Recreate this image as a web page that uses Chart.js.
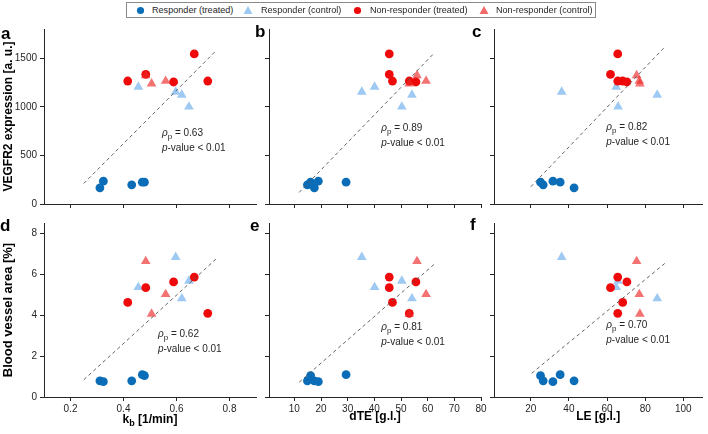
<!DOCTYPE html>
<html>
<head>
<meta charset="utf-8">
<script src="https://cdn.jsdelivr.net/npm/chart.js@4.4.0/dist/chart.umd.min.js"></script>
<style>
    html, body { margin: 0; padding: 0; background: #fff; }
    #fig { position: relative; width: 708px; height: 434px; overflow: hidden; }
    .panel { position: absolute; }
    #legend {
        position: absolute; left: 126px; top: 2px; width: 468px; height: 14px;
        border: 1px solid #8a8a8a; background: #fff;
        font-family: "Liberation Sans", Arial, Helvetica, sans-serif; font-size: 9.1px; color: #262626;
    }
    #legend span, #legend svg { position: absolute; }
    #legend span { top: 1px; line-height: 12px; white-space: nowrap; }
</style>
</head>
<body>
<div id="fig">
    <div class="panel" id="pA"><canvas id="cA"></canvas></div>
    <div class="panel" id="pB"><canvas id="cB"></canvas></div>
    <div class="panel" id="pC"><canvas id="cC"></canvas></div>
    <div class="panel" id="pD"><canvas id="cD"></canvas></div>
    <div class="panel" id="pE"><canvas id="cE"></canvas></div>
    <div class="panel" id="pF"><canvas id="cF"></canvas></div>
    <div id="legend">
        <svg style="left:9px;top:3px" width="9" height="9"><circle cx="4.5" cy="4.5" r="3.6" fill="#0b6db7"/></svg>
        <span style="left:25px">Responder (treated)</span>
        <svg style="left:116px;top:2px" width="10" height="10"><polygon points="5,1 9.5,9 0.5,9" fill="#9dc9f2"/></svg>
        <span style="left:134px">Responder (control)</span>
        <svg style="left:226px;top:3px" width="9" height="9"><circle cx="4.5" cy="4.5" r="3.6" fill="#ee0a0a"/></svg>
        <span style="left:243px">Non-responder (treated)</span>
        <svg style="left:352px;top:2px" width="10" height="10"><polygon points="5,1 9.5,9 0.5,9" fill="#f26a6a"/></svg>
        <span style="left:369px">Non-responder (control)</span>
    </div>
</div>

<script>
// ---- data (one entry per animal) ----
// Responder (treated)
const kbRT    = [0.311, 0.324, 0.431, 0.471, 0.479];
const dteRT   = [17.5, 19.0, 14.9, 29.4, 16.1];
const leRT    = [42.7, 31.6, 26.5, 35.4, 25.1];
const vegfrRT = [166, 235, 197, 224, 224];
const bvaRT   = [0.79, 0.75, 0.79, 1.09, 1.04];
// Responder (control)
const kbRC    = [0.456, 0.597, 0.620, 0.647];
const dteRC   = [40.1, 35.3, 54.1, 50.3];
const leRC    = [64.8, 36.2, 86.3, 65.8];
const vegfrRC = [1204, 1153, 1122, 1000];
const bvaRC   = [5.36, 6.83, 4.81, 5.67];
// Non-responder (treated)
const kbNT    = [0.416, 0.484, 0.589, 0.667, 0.718];
const dteNT   = [46.8, 45.6, 55.6, 45.6, 53.1];
const leNT    = [68.2, 61.8, 70.4, 65.6, 65.6];
const vegfrNT = [1265, 1333, 1255, 1544, 1265];
const bvaNT   = [4.62, 5.34, 5.62, 5.86, 4.09];
// Non-responder (control)
const kbNC    = [0.484, 0.506, 0.559];
const dteNC   = [56.0, 53.1, 59.4];
const leNC    = [75.5, 77.2, 76.9];
const vegfrNC = [1323, 1238, 1265];
const bvaNC   = [6.63, 4.06, 5.02];

// regression lines (end points)
const fitKbVegfrX  = [0.25, 0.75],  fitKbVegfrY  = [211, 1579];
const fitDteVegfrX = [11.8, 62.3],  fitDteVegfrY = [119, 1548];
const fitLeVegfrX  = [20.0, 90.6],  fitLeVegfrY  = [177, 1622];
const fitKbBvaX    = [0.25, 0.75],  fitKbBvaY    = [0.84, 6.75];
const fitDteBvaX   = [11.8, 62.3],  fitDteBvaY   = [0.72, 6.47];
const fitLeBvaX    = [20.5, 90.6],  fitLeBvaY    = [1.16, 6.55];

const rhoP = ['0.63', '0.89', '0.82', '0.62', '0.81', '0.70'];
const pText = '-value < 0.01';

// tick labels
const kbTicks    = [0.2, 0.4, 0.6, 0.8];
const dteTicks   = [10, 20, 30, 40, 50, 60, 70, 80];
const leTicks    = [20, 40, 60, 80, 100];
const vegfrTicks = [0, 500, 1000, 1500];
const bvaTicks   = [0, 2, 4, 6, 8];

const groupLabels = ['Responder (treated)', 'Responder (control)', 'Non-responder (treated)', 'Non-responder (control)'];

// ---- styling / layout ----
const FONT = '"Liberation Sans", Arial, Helvetica, sans-serif';
const AXIS = '#262626';
Chart.defaults.font.family = FONT;
Chart.defaults.color = AXIS;

const groupStyle = [
    { color: '#0b6db7', pointStyle: 'circle', radius: 4.4, order: 4 },
    { color: '#9dc9f2', pointStyle: 'triangle', radius: 5.6, order: 3 },
    { color: '#ee0a0a', pointStyle: 'circle', radius: 4.4, order: 2 },
    { color: 'rgba(236, 40, 40, 0.65)', pointStyle: 'triangle', radius: 5.6, order: 1 }
];

const xVars = {
    kb:  { data: [kbRT, kbRC, kbNT, kbNC], min: 0.1, max: 0.9, ticks: kbTicks, fmt: v => v.toFixed(1), title: [['k', 0], ['b', 3], [' [1/min]', 0]], titleY: 423 },
    dte: { data: [dteRT, dteRC, dteNT, dteNC], min: 0.5, max: 80, ticks: dteTicks, fmt: v => String(v), title: [['dTE [g.l.]', 0]], titleY: 420 },
    le:  { data: [leRT, leRC, leNT, leNC], min: 0.7, max: 110, ticks: leTicks, fmt: v => String(v), title: [['LE [g.l.]', 0]], titleY: 420 }
};
const yVars = {
    vegfr: { data: [vegfrRT, vegfrRC, vegfrNT, vegfrNC], min: 0, max: 1800, ticks: vegfrTicks, title: 'VEGFR2 expression [a. u.]', titleSize: 12 },
    bva:   { data: [bvaRT, bvaRC, bvaNT, bvaNC], min: 0, max: 8.5, ticks: bvaTicks, title: 'Blood vessel area [%]', titleSize: 13 }
};

const cols = [
    { divLeft: 0,   plotLeft: 44,  plotRight: 256, divRight: 262 },
    { divLeft: 230, plotLeft: 269, plotRight: 481, divRight: 494 },
    { divLeft: 460, plotLeft: 494, plotRight: 707, divRight: 708 }
];
const rows = [
    { divTop: 20,  plotTop: 27,  plotBottom: 204, divBottom: 222 },
    { divTop: 214, plotTop: 221, plotBottom: 397, divBottom: 434 }
];

const panels = [
    { id: 'A', col: 0, row: 0, x: 'kb',  y: 'vegfr', letter: 'a', letterAt: [1, 39],    noteAt: [0.545, 724], fit: [fitKbVegfrX, fitKbVegfrY],   rho: rhoP[0] },
    { id: 'B', col: 1, row: 0, x: 'dte', y: 'vegfr', letter: 'b', letterAt: [255, 37],  noteAt: [42.6, 776],  fit: [fitDteVegfrX, fitDteVegfrY], rho: rhoP[1] },
    { id: 'C', col: 2, row: 0, x: 'le',  y: 'vegfr', letter: 'c', letterAt: [472, 37],  noteAt: [59.6, 786],  fit: [fitLeVegfrX, fitLeVegfrY],   rho: rhoP[2] },
    { id: 'D', col: 0, row: 1, x: 'kb',  y: 'bva',   letter: 'd', letterAt: [0, 231],   noteAt: [0.530, 3.06], fit: [fitKbBvaX, fitKbBvaY],      rho: rhoP[3] },
    { id: 'E', col: 1, row: 1, x: 'dte', y: 'bva',   letter: 'e', letterAt: [250, 231], noteAt: [42.6, 3.40], fit: [fitDteBvaX, fitDteBvaY],     rho: rhoP[4] },
    { id: 'F', col: 2, row: 1, x: 'le',  y: 'bva',   letter: 'f', letterAt: [470, 230], noteAt: [59.6, 3.49], fit: [fitLeBvaX, fitLeBvaY],       rho: rhoP[5] }
];

// draws a list of [text, font, dy] runs left to right, returns the end x
function drawRuns(ctx, x, y, runs) {
    runs.forEach(function(r) {
        ctx.font = r[1] + ' ' + FONT;
        ctx.fillText(r[0], x, y + (r[2] || 0));
        x += ctx.measureText(r[0]).width;
    });
    return x;
}

// panel letters, rho / p-value notes and x-axis titles (k with subscript b)
const panelText = {
    id: 'panelText',
    afterDraw(chart, args, o) {
        const ctx = chart.ctx;
        const xs = chart.scales.x, ys = chart.scales.y, ca = chart.chartArea;
        ctx.save();
        ctx.textAlign = 'left';

        ctx.fillStyle = '#000';
        ctx.textBaseline = 'alphabetic';
        ctx.font = 'bold 17px ' + FONT;
        ctx.fillText(o.letter, o.letterAt[0], o.letterAt[1]);

        ctx.fillStyle = AXIS;
        ctx.textBaseline = 'middle';
        const nx = xs.getPixelForValue(o.noteAt[0]);
        const ny = ys.getPixelForValue(o.noteAt[1]);
        drawRuns(ctx, nx, ny, [['\u03C1', 'italic 10px'], ['p', '8px', 3], [' = ' + o.rho, '10px']]);
        drawRuns(ctx, nx, ny + 15, [['p', 'italic 10px'], [pText, '10px']]);

        if (o.xTitle) {
            ctx.fillStyle = '#000';
            ctx.textBaseline = 'alphabetic';
            let w = 0;
            o.xTitle.forEach(function(r) {
                ctx.font = 'bold ' + (r[1] ? 9 : 12) + 'px ' + FONT;
                w += ctx.measureText(r[0]).width;
            });
            const runs = o.xTitle.map(r => [r[0], 'bold ' + (r[1] ? 9 : 12) + 'px', r[1]]);
            drawRuns(ctx, (ca.left + ca.right) / 2 - w / 2, o.xTitleY, runs);
        }
        ctx.restore();
    }
};

panels.forEach(function(p) {
    const c = cols[p.col], r = rows[p.row];
    const xv = xVars[p.x], yv = yVars[p.y];
    const showX = p.row === 1, showY = p.col === 0;

    const div = document.getElementById('p' + p.id);
    div.style.left = c.divLeft + 'px';
    div.style.top = r.divTop + 'px';
    div.style.width = (c.divRight - c.divLeft) + 'px';
    div.style.height = (r.divBottom - r.divTop) + 'px';

    const datasets = groupLabels.map(function(label, g) {
        const st = groupStyle[g];
        return {
            label: label,
            data: xv.data[g].map((v, i) => ({ x: v, y: yv.data[g][i] })),
            pointStyle: st.pointStyle,
            pointRadius: st.radius,
            backgroundColor: st.color,
            borderWidth: 0,
            order: st.order
        };
    });
    datasets.push({
        label: 'fit',
        data: p.fit[0].map((v, i) => ({ x: v, y: p.fit[1][i] })),
        showLine: true,
        borderColor: '#555',
        borderWidth: 0.9,
        borderDash: [3.5, 3],
        pointRadius: 0,
        order: 0
    });

    const grid = { display: true, drawOnChartArea: false, drawTicks: true, tickLength: 4, color: AXIS, lineWidth: 1 };
    const border = { display: true, color: AXIS, width: 1 };

    new Chart(document.getElementById('c' + p.id), {
        type: 'scatter',
        data: { datasets: datasets },
        options: {
            responsive: true,
            maintainAspectRatio: false,
            animation: false,
            events: [],
            layout: { padding: { left: 0, top: r.plotTop - r.divTop, right: c.divRight - c.plotRight, bottom: 0 } },
            plugins: {
                legend: { display: false },
                tooltip: { enabled: false },
                panelText: {
                    letter: p.letter,
                    letterAt: [p.letterAt[0] - c.divLeft, p.letterAt[1] - r.divTop],
                    noteAt: p.noteAt,
                    rho: p.rho,
                    xTitle: showX ? xv.title : null,
                    xTitleY: xv.titleY - r.divTop
                }
            },
            scales: {
                x: {
                    type: 'linear',
                    min: xv.min, max: xv.max,
                    afterBuildTicks: axis => { axis.ticks = xv.ticks.map(v => ({ value: v })); },
                    afterFit: s => { s.height = r.divBottom - r.plotBottom; },
                    grid: grid, border: border,
                    ticks: { font: { size: 10 }, color: AXIS, padding: 2, maxRotation: 0,
                             callback: v => showX ? xv.fmt(v) : '' }
                },
                y: {
                    type: 'linear',
                    min: yv.min, max: yv.max,
                    afterBuildTicks: axis => { axis.ticks = yv.ticks.map(v => ({ value: v })); },
                    afterFit: s => { s.width = c.plotLeft - c.divLeft; },
                    grid: grid, border: border,
                    ticks: { font: { size: 10 }, color: AXIS, padding: 3,
                             callback: v => showY ? String(v) : '' },
                    title: { display: showY, text: yv.title, color: '#000',
                             font: { size: yv.titleSize, weight: 'bold' }, padding: { top: 1, bottom: 0 } }
                }
            }
        },
        plugins: [panelText]
    });
});
</script>
</body>
</html>
